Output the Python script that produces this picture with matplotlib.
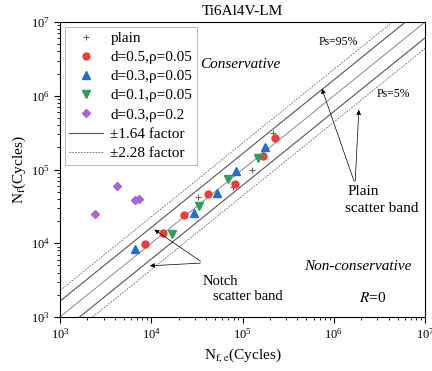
import numpy as np
import matplotlib
matplotlib.use('Agg')
import matplotlib.pyplot as plt

plt.rcParams['font.family'] = 'Liberation Serif'
plt.rcParams['mathtext.fontset'] = 'stix'

plain_x = [32500, 78700, 127000, 216000]
plain_y = [42400, 58000, 98500, 313000]

d05_x = [8550, 13500, 22900, 41900, 82800, 168000, 227000]
d05_y = [9780, 13800, 24200, 46500, 63600, 152000, 267000]

d03_x = [6640, 29400, 52600, 84900, 177000]
d03_y = [8360, 25700, 48000, 95500, 202000]

d01_x = [16900, 33300, 69400, 148000]
d01_y = [13300, 32000, 74300, 143000]

d03r_x = [2420, 4220, 6640, 7340]
d03r_y = [24900, 59700, 38500, 39800]

factor_1 = 1.64
factor_2 = 2.28

fig = plt.figure(figsize=(4.32, 3.71), dpi=100)
ax = fig.add_axes([0.1389, 0.1456, 0.845, 0.795])

# bandas de dispersion
xs = np.array([1e2, 1e8])
ax.plot(xs, xs, color='#777777', lw=0.6)
ax.plot(xs, xs * factor_1, color='#555555', lw=0.8, label='±1.64 factor')
ax.plot(xs, xs / factor_1, color='#555555', lw=0.8)
ax.plot(xs, xs * factor_2, color='#666666', lw=0.6, ls=(0, (2, 1.5)), label='±2.28 factor')
ax.plot(xs, xs / factor_2, color='#666666', lw=0.6, ls=(0, (2, 1.5)))

# puntos
ax.plot(plain_x, plain_y, '+', color='#666666', ms=5, mew=0.8, ls='none', label='plain')
ax.plot(d05_x, d05_y, 'o', color='#e8403a', ms=5, ls='none', label='d=0.5,ρ=0.05')
ax.plot(d03_x, d03_y, '^', color='#1f6fd0', ms=6, ls='none', label='d=0.3,ρ=0.05')
ax.plot(d01_x, d01_y, 'v', color='#2e9e5a', ms=6, ls='none', label='d=0.1,ρ=0.05')
ax.plot(d03r_x, d03r_y, 'D', color='#a866d8', ms=4.5, ls='none', label='d=0.3,ρ=0.2')

ax.set_xscale('log')
ax.set_yscale('log')
ax.set_xlim(1e3, 1e7)
ax.set_ylim(1e3, 1e7)
ax.tick_params(which='both', direction='out', top=False, right=False, labelsize=9)
ax.tick_params(which='major', length=4)
ax.tick_params(which='minor', length=2)
ax.set_title('Ti6Al4V-LM', fontsize=11, pad=5)
ax.set_xlabel(r'N$_\mathrm{f,e}$(Cycles)', fontsize=11, labelpad=3)
ax.set_ylabel(r'N$_\mathrm{f}$(Cycles)', fontsize=11, labelpad=2)

# orden de la leyenda como en la figura
h, l = ax.get_legend_handles_labels()
orden = ['plain', 'd=0.5,ρ=0.05', 'd=0.3,ρ=0.05', 'd=0.1,ρ=0.05', 'd=0.3,ρ=0.2',
         '±1.64 factor', '±2.28 factor']
hh = [h[l.index(o)] for o in orden]
leg = ax.legend(hh, orden, loc='upper left', fontsize=11, frameon=True, fancybox=False,
                edgecolor='#999999', borderaxespad=0.3, labelspacing=0.36,
                handlelength=2.2, handletextpad=0.5, borderpad=0.3)
leg.get_frame().set_linewidth(0.6)

# textos
ax.text(1.11e6, 5.36e6, 'Ps=95%', fontsize=8.5, ha='center', va='center')
ax.text(4.46e6, 1.06e6, 'Ps=5%', fontsize=8.5, ha='center', va='center')
ax.text(9.4e4, 2.69e6, 'Conservative', fontsize=11, style='italic', ha='center', va='center')
ax.text(1.85e6, 4770, 'Non-conservative', fontsize=11, style='italic', ha='center', va='center')
ax.text(2.69e6, 1810, r'$R$=0', fontsize=11, ha='center', va='center')
ax.text(1.4e6, 51000, 'Plain', fontsize=11, ha='left', va='center')
ax.text(1.33e6, 30000, 'scatter band', fontsize=11, ha='left', va='center')
ax.text(36900, 2990, 'Notch', fontsize=10.5, ha='left', va='center')
ax.text(47500, 1870, 'scatter band', fontsize=10.5, ha='left', va='center')

flecha = dict(arrowstyle='-|>', color='black', lw=0.5, mutation_scale=7)
ax.annotate('', xy=(7.24e5, 1.355e6), xytext=(1.71e6, 63500), arrowprops=flecha)
ax.annotate('', xy=(1.89e6, 7.03e5), xytext=(1.71e6, 63500), arrowprops=flecha)
ax.annotate('', xy=(10200, 16100), xytext=(36900, 5400), arrowprops=flecha)
ax.annotate('', xy=(8980, 4920), xytext=(36900, 5400), arrowprops=flecha)

fig.savefig('out.png', dpi=100)
